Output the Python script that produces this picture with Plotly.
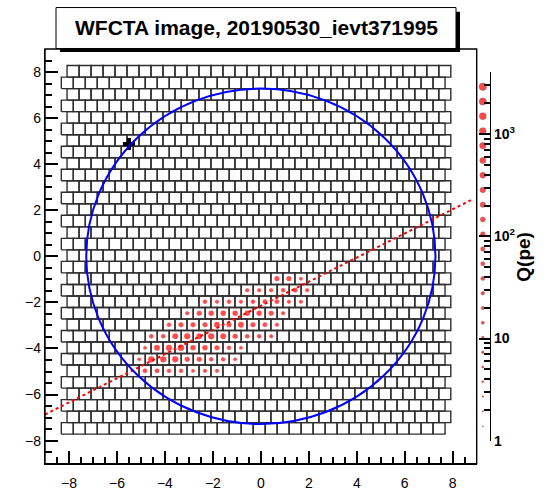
import numpy as np
import plotly.graph_objects as go

W, H = 549, 491

# Camera geometry: 32 x 32 SiPM pixels, alternate rows shifted by half a pitch
n_rows = 32
n_cols = 32
pitch = 0.5
top_row_y = 8.03
even_row_x0 = -7.83
odd_row_x0 = -8.07

# Hit pixels: row index, first hit column in that row, charges (pe) along the row
hit_rows = [18, 19, 20, 21, 22, 23, 24, 25, 26]
hit_first_col = [17, 15, 11, 10, 8, 7, 6, 6, 6]
hit_charge = [
    [100, 100, 17],
    [26, 26, 26, 40, 64, 26],
    [40, 26, 40, 26, 40, 64, 64, 26, 26],
    [26, 100, 156, 156, 156, 156, 156, 100, 26],
    [40, 100, 100, 100, 246, 100, 246, 100, 64, 26],
    [40, 40, 246, 386, 246, 386, 246, 100, 40, 40, 26],
    [17, 246, 386, 605, 156, 156, 100, 40, 17],
    [17, 386, 386, 386, 100, 100, 40, 40, 17],
    [64, 64, 40, 40, 17, 26, 26],
]

# Image major-axis line
fit_slope = 0.524
fit_intercept = -2.15
fit_x = [-9.0, 8.8]

# Field-of-view circle
fov_cx, fov_cy, fov_r = 0.0, 0.0, 7.28

# Source position
src_x, src_y = -5.5, 4.88

# Axis ticks of the camera plane (degrees)
xy_range = [-9, 9]
xy_major = [-8, -6, -4, -2, 0, 2, 4, 6, 8]
xy_minor = [v / 2 for v in range(-17, 18) if v % 4 != 0]

# Charge scale
q_axis_max = 4000.0
legend_q = [1.39, 1.94, 2.71, 3.78, 5.27, 7.34, 10.2, 14.3, 19.9, 27.7, 38.7, 53.9,
            75.2, 105, 146, 204, 284, 396, 552, 769, 1072, 1495, 2084, 2905]
q_tickvals = [1, 10, 100, 1000]
q_ticktext = ["1", "10", "10<sup>2</sup>", "10<sup>3</sup>"]
q_minor = [m * d for d in (1, 10, 100) for m in range(2, 10)] + [2000, 3000, 4000]

title_text = "WFCTA image, 20190530_ievt371995"
font = "Liberation Sans"

# pad frame in pixels
frame_l, frame_r, frame_t, frame_b = 45, 476.7, 50, 473.3


def marker_px(q):
    return 0.8 + 1.9 * np.log10(np.asarray(q, dtype=float))


def px(x):
    return x / W


def py(y):
    return 1 - y / H


def cell_center(i, j):
    x0 = even_row_x0 if i % 2 == 0 else odd_row_x0
    return x0 + pitch * j, top_row_y - pitch * i


# pixel outlines
gx, gy = [], []
h = pitch / 2
for i in range(n_rows):
    for j in range(n_cols):
        xc, yc = cell_center(i, j)
        gx += [xc - h, xc + h, xc + h, xc - h, xc - h, None]
        gy += [yc - h, yc - h, yc + h, yc + h, yc - h, None]

# hit pixel markers
hx, hy, hq = [], [], []
for r, c0, qs in zip(hit_rows, hit_first_col, hit_charge):
    for k, q in enumerate(qs):
        xc, yc = cell_center(r, c0 + k)
        hx.append(xc)
        hy.append(yc)
        hq.append(q)

fig = go.Figure()
fig.add_trace(go.Scatter(x=gx, y=gy, mode="lines", line=dict(color="#2e2e2e", width=1.4),
                         hoverinfo="skip", showlegend=False))
fig.add_trace(go.Scatter(x=hx, y=hy, mode="markers",
                         marker=dict(color="#ff0000", size=marker_px(hq),
                                     line=dict(color="#ff0000", width=0.6)),
                         showlegend=False))
fy = [fit_slope * x + fit_intercept for x in fit_x]
fig.add_trace(go.Scatter(x=fit_x, y=fy, mode="lines",
                         line=dict(color="#ff0000", width=2, dash="dot"), showlegend=False))
fig.add_trace(go.Scatter(x=[src_x], y=[src_y], mode="markers",
                         marker=dict(symbol="cross", size=10, color="black"), showlegend=False))

# charge scale markers
fig.add_trace(go.Scatter(x=[0.4] * len(legend_q), y=legend_q, mode="markers",
                         marker=dict(color="#ff0000", size=marker_px(legend_q),
                                     line=dict(color="#800000", width=0.5)),
                         xaxis="x2", yaxis="y2", showlegend=False))

axis_common = dict(showline=True, linecolor="black", linewidth=1.4,
                   ticks="inside", tickcolor="black", tickwidth=1.6, showgrid=False,
                   zeroline=False, tickmode="array", tickvals=xy_major,
                   layer="above traces",
                   tickfont=dict(family=font, size=14, color="black"))

fig.update_layout(
    width=W, height=H, margin=dict(l=0, r=0, t=0, b=0),
    paper_bgcolor="white", plot_bgcolor="white",
    xaxis=dict(domain=[px(frame_l), px(frame_r)], range=xy_range, ticklen=12,
               ticklabelstandoff=6,
               minor=dict(tickmode="array", tickvals=xy_minor, ticks="inside", ticklen=6,
                          tickcolor="black", tickwidth=1.6, showgrid=False),
               **axis_common),
    yaxis=dict(domain=[py(frame_b), py(frame_t)], range=xy_range, ticklen=13,
               minor=dict(tickmode="array", tickvals=xy_minor, ticks="inside", ticklen=7,
                          tickcolor="black", tickwidth=1.6, showgrid=False),
               **axis_common),
    xaxis2=dict(domain=[px(478), px(490)], range=[0, 1], visible=False, anchor="y2"),
    yaxis2=dict(domain=[py(450), py(74)], type="log", range=[0, np.log10(q_axis_max)],
                anchor="x2", side="right", showline=True, linecolor="black", linewidth=1.4,
                ticks="inside", ticklen=11, tickcolor="black", tickwidth=1.6,
                showgrid=False, zeroline=False,
                tickmode="array", tickvals=q_tickvals, ticktext=q_ticktext,
                minor=dict(tickmode="array", tickvals=q_minor, ticks="inside", ticklen=6,
                           tickcolor="black", tickwidth=1.6, showgrid=False),
                tickfont=dict(family=font, size=14, color="black", weight="bold")),
    shapes=[
        # frame of the image pad
        dict(type="rect", xref="x domain", yref="y domain", x0=0, x1=1, y0=0, y1=1,
             line=dict(color="black", width=1.4), fillcolor="rgba(0,0,0,0)", layer="above"),
        dict(type="circle", xref="x", yref="y", x0=fov_cx - fov_r, x1=fov_cx + fov_r,
             y0=fov_cy - fov_r, y1=fov_cy + fov_r, line=dict(color="#0000ff", width=2)),
        # title box with drop shadow
        dict(type="rect", xref="paper", yref="paper", x0=px(60), x1=px(460),
             y0=py(53), y1=py(12), fillcolor="black", line=dict(width=0)),
        dict(type="rect", xref="paper", yref="paper", x0=px(56), x1=px(456),
             y0=py(49.5), y1=py(7.7), fillcolor="white", line=dict(color="black", width=1)),
    ],
    annotations=[
        dict(text=title_text, xref="paper", yref="paper", x=px(256), y=py(28.5),
             xanchor="center", yanchor="middle", showarrow=False,
             font=dict(family=font, size=21, color="black", weight="bold")),
        dict(text="Q(pe)", xref="paper", yref="paper", x=px(524), y=py(262),
             xanchor="center", yanchor="middle", showarrow=False, textangle=-90,
             font=dict(family=font, size=19, color="black", weight="bold")),
    ],
)

fig.write_html("out.html")
